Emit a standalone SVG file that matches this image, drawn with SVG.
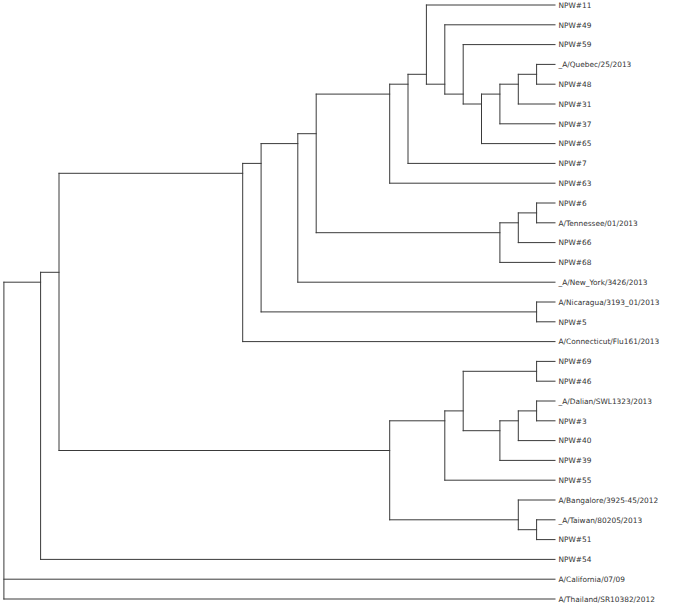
<svg xmlns="http://www.w3.org/2000/svg" width="674" height="609" viewBox="0 0 674 609">
<style>
.b{fill:none;stroke:#3a3a3a;stroke-width:1;stroke-linecap:square}
.t{font-family:"DejaVu Sans",Verdana,sans-serif;font-size:7.4px;fill:#333}
</style>
<rect width="674" height="609" fill="#fff"/>
<g id="connectors" class="b">
<!-- leaf branches -->
<path d="M426.4,5H555"/>
<path d="M444.8,24.8H555"/>
<path d="M463.2,44.6H555"/>
<path d="M536.6,64.4H555"/>
<path d="M536.6,84.2H555"/>
<path d="M518.3,104H555"/>
<path d="M499.9,123.8H555"/>
<path d="M481.5,143.6H555"/>
<path d="M408,163.4H555"/>
<path d="M389.7,183.2H555"/>
<path d="M536.6,203H555"/>
<path d="M536.6,222.8H555"/>
<path d="M518.3,242.6H555"/>
<path d="M499.9,262.4H555"/>
<path d="M297.8,282.2H555"/>
<path d="M536.6,302H555"/>
<path d="M536.6,321.8H555"/>
<path d="M242.7,341.6H555"/>
<path d="M536.6,361.4H555"/>
<path d="M536.6,381.2H555"/>
<path d="M536.6,401H555"/>
<path d="M536.6,420.8H555"/>
<path d="M518.3,440.6H555"/>
<path d="M499.9,460.4H555"/>
<path d="M444.8,480.2H555"/>
<path d="M518.3,500H555"/>
<path d="M536.6,519.8H555"/>
<path d="M536.6,539.6H555"/>
<path d="M40.6,559.4H555"/>
<path d="M3.9,579.2H555"/>
<path d="M3.9,599H555"/>
<!-- internal branches -->
<path d="M518.3,74.3H536.6M536.6,64.4V84.2"/>
<path d="M499.9,84.2H518.3M518.3,74.3V104"/>
<path d="M481.5,94.1H499.9M499.9,84.2V123.8"/>
<path d="M463.2,104H481.5M481.5,94.1V143.6"/>
<path d="M444.8,94.1H463.2M463.2,44.6V104"/>
<path d="M426.4,84.2H444.8M444.8,24.8V94.1"/>
<path d="M408,74.3H426.4M426.4,5V84.2"/>
<path d="M389.7,84.2H408M408,74.3V163.4"/>
<path d="M316.2,94.1H389.7M389.7,84.2V183.2"/>
<path d="M518.3,212.9H536.6M536.6,203V222.8"/>
<path d="M499.9,222.8H518.3M518.3,212.9V242.6"/>
<path d="M316.2,232.7H499.9M499.9,222.8V262.4"/>
<path d="M297.8,133.7H316.2M316.2,94.1V232.7"/>
<path d="M261.1,143.6H297.8M297.8,133.7V282.2"/>
<path d="M261.1,311.9H536.6M536.6,302V321.8"/>
<path d="M242.7,163.4H261.1M261.1,143.6V311.9"/>
<path d="M59,173.3H242.7M242.7,163.4V341.6"/>
<path d="M463.2,371.3H536.6M536.6,361.4V381.2"/>
<path d="M518.3,410.9H536.6M536.6,401V420.8"/>
<path d="M499.9,420.8H518.3M518.3,410.9V440.6"/>
<path d="M463.2,430.7H499.9M499.9,420.8V460.4"/>
<path d="M444.8,410.9H463.2M463.2,371.3V430.7"/>
<path d="M389.7,420.8H444.8M444.8,410.9V480.2"/>
<path d="M518.3,529.7H536.6M536.6,519.8V539.6"/>
<path d="M389.7,519.8H518.3M518.3,500V529.7"/>
<path d="M59,450.5H389.7M389.7,420.8V519.8"/>
<path d="M40.6,272.3H59M59,173.3V450.5"/>
<path d="M3.9,282.2H40.6M40.6,272.3V559.4"/>
<path d="M3.9,282.2V599"/>
</g>
<g class="t">
<g id="npw11"><text x="558.5" y="7.7">NPW#11</text></g>
<g id="npw49"><text x="558.5" y="27.5">NPW#49</text></g>
<g id="npw59"><text x="558.5" y="47.3">NPW#59</text></g>
<g id="quebec"><text x="558.5" y="67.1">_A/Quebec/25/2013</text></g>
<g id="npw48"><text x="558.5" y="86.9">NPW#48</text></g>
<g id="npw31"><text x="558.5" y="106.7">NPW#31</text></g>
<g id="npw37"><text x="558.5" y="126.5">NPW#37</text></g>
<g id="npw65"><text x="558.5" y="146.3">NPW#65</text></g>
<g id="npw7"><text x="558.5" y="166.1">NPW#7</text></g>
<g id="npw63"><text x="558.5" y="185.9">NPW#63</text></g>
<g id="npw6"><text x="558.5" y="205.7">NPW#6</text></g>
<g id="tennessee"><text x="558.5" y="225.5">A/Tennessee/01/2013</text></g>
<g id="npw66"><text x="558.5" y="245.3">NPW#66</text></g>
<g id="npw68"><text x="558.5" y="265.1">NPW#68</text></g>
<g id="newyork"><text x="558.5" y="284.9">_A/New_York/3426/2013</text></g>
<g id="nicaragua"><text x="558.5" y="304.7">A/Nicaragua/3193_01/2013</text></g>
<g id="npw5"><text x="558.5" y="324.5">NPW#5</text></g>
<g id="connecticut"><text x="558.5" y="344.3">A/Connecticut/Flu161/2013</text></g>
<g id="npw69"><text x="558.5" y="364.1">NPW#69</text></g>
<g id="npw46"><text x="558.5" y="383.9">NPW#46</text></g>
<g id="dalian"><text x="558.5" y="403.7">_A/Dalian/SWL1323/2013</text></g>
<g id="npw3"><text x="558.5" y="423.5">NPW#3</text></g>
<g id="npw40"><text x="558.5" y="443.3">NPW#40</text></g>
<g id="npw39"><text x="558.5" y="463.1">NPW#39</text></g>
<g id="npw55"><text x="558.5" y="482.9">NPW#55</text></g>
<g id="bangalore"><text x="558.5" y="502.7">A/Bangalore/3925-45/2012</text></g>
<g id="taiwan"><text x="558.5" y="522.5">_A/Taiwan/80205/2013</text></g>
<g id="npw51"><text x="558.5" y="542.3">NPW#51</text></g>
<g id="npw54"><text x="558.5" y="562.1">NPW#54</text></g>
<g id="california"><text x="558.5" y="581.9">A/California/07/09</text></g>
<g id="thailand"><text x="558.5" y="601.7">A/Thailand/SR10382/2012</text></g>
</g>
</svg>
